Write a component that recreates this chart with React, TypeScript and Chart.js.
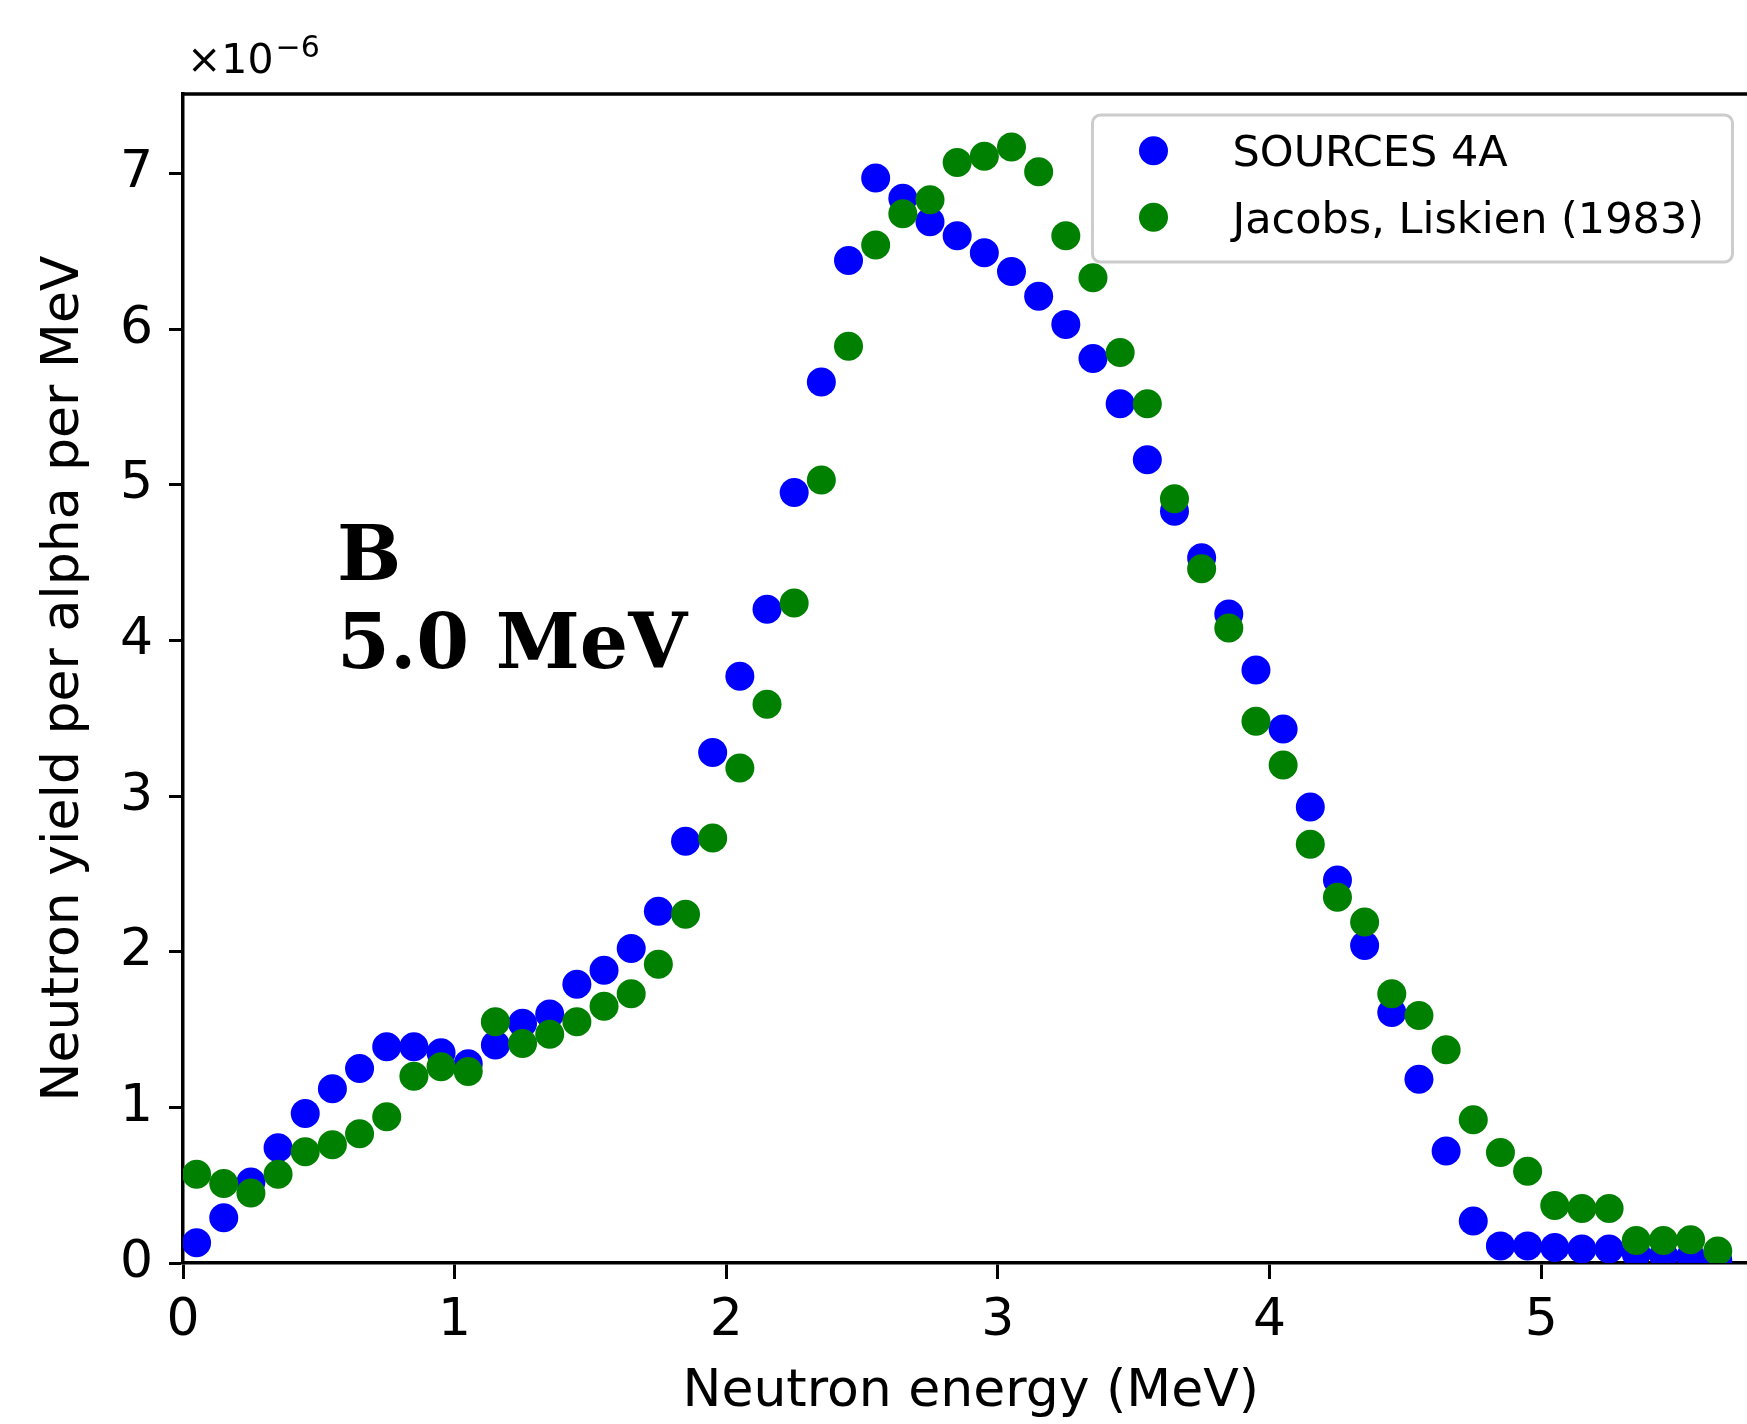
import React, { useEffect, useRef } from "react";
import { Chart, registerables } from "chart.js";

Chart.register(...registerables);

// ---- data (neutron yield in units of 1e-6 per alpha per MeV) ----
const energies = [
  0.05, 0.15, 0.25, 0.35, 0.45, 0.55, 0.65, 0.75, 0.85, 0.95,
  1.05, 1.15, 1.25, 1.35, 1.45, 1.55, 1.65, 1.75, 1.85, 1.95,
  2.05, 2.15, 2.25, 2.35, 2.45, 2.55, 2.65, 2.75, 2.85, 2.95,
  3.05, 3.15, 3.25, 3.35, 3.45, 3.55, 3.65, 3.75, 3.85, 3.95,
  4.05, 4.15, 4.25, 4.35, 4.45, 4.55, 4.65, 4.75, 4.85, 4.95,
  5.05, 5.15, 5.25, 5.35, 5.45, 5.55, 5.65,
];

const sources4a = [
  0.13, 0.29, 0.52, 0.74, 0.96, 1.12, 1.25, 1.39, 1.39, 1.35,
  1.28, 1.40, 1.54, 1.60, 1.79, 1.88, 2.02, 2.26, 2.71, 3.28,
  3.77, 4.20, 4.95, 5.66, 6.44, 6.97, 6.84, 6.69, 6.60, 6.49,
  6.37, 6.21, 6.03, 5.81, 5.52, 5.16, 4.83, 4.53, 4.17, 3.81,
  3.43, 2.93, 2.46, 2.04, 1.61, 1.18, 0.72, 0.27, 0.11, 0.11,
  0.10, 0.09, 0.09, 0.06, 0.05, 0.04, 0.02,
];

const jacobsLiskien = [
  0.57, 0.51, 0.45, 0.57, 0.715, 0.76, 0.83, 0.94, 1.20, 1.26,
  1.23, 1.55, 1.41, 1.47, 1.55, 1.65, 1.73, 1.92, 2.24, 2.73,
  3.18, 3.59, 4.24, 5.03, 5.89, 6.54, 6.74, 6.83, 7.07, 7.11,
  7.17, 7.01, 6.60, 6.33, 5.85, 5.52, 4.91, 4.46, 4.08, 3.48,
  3.20, 2.69, 2.35, 2.19, 1.73, 1.59, 1.37, 0.92, 0.71, 0.59,
  0.37, 0.35, 0.35, 0.145, 0.145, 0.15, 0.077,
];

const seriesLabels = ["SOURCES 4A", "Jacobs, Liskien (1983)"];
const seriesColors = ["#0000ff", "#008000"];
const xTicks = [0, 1, 2, 3, 4, 5];
const yTicks = [0, 1, 2, 3, 4, 5, 6, 7];
const xRange = [0, 5.8];
const yRange = [0, 7.51];
const xTitle = "Neutron energy (MeV)";
const yTitle = "Neutron yield per alpha per MeV";
const offsetBase = "\u00d710";
const offsetExp = "\u22126";
const panelLabel = "B";
const beamLabel = "5.0 MeV";

const SANS = "'DejaVu Sans', sans-serif";
const SERIF = "'DejaVu Serif', serif";

const decorations = {
  id: "decorations",
  afterDraw(chart: any) {
    const { ctx, chartArea: a } = chart;
    ctx.save();
    // top and right spines
    ctx.strokeStyle = "#000";
    ctx.lineWidth = 3.5;
    ctx.beginPath();
    ctx.moveTo(a.left - 1.75, a.top);
    ctx.lineTo(a.right, a.top);
    ctx.lineTo(a.right, a.bottom);
    ctx.stroke();

    // offset text (x10^-6)
    ctx.fillStyle = "#000";
    ctx.textAlign = "left";
    ctx.textBaseline = "alphabetic";
    ctx.font = `41px ${SANS}`;
    ctx.fillText(offsetBase, a.left + 4, a.top - 21);
    const w = ctx.measureText(offsetBase).width;
    ctx.font = `30px ${SANS}`;
    ctx.fillText(offsetExp, a.left + 4 + w + 2, a.top - 37);

    // panel annotation
    ctx.font = `bold 76px ${SERIF}`;
    ctx.fillText(panelLabel, a.left + 154, a.top + 486);
    ctx.fillText(beamLabel, a.left + 154, a.top + 574);

    // legend
    const boxW = 640;
    const boxH = 147;
    const right = a.right - 26;
    const left = right - boxW;
    const top = a.top + 21;
    ctx.beginPath();
    (ctx as any).roundRect(left, top, boxW, boxH, 8);
    ctx.fillStyle = "rgba(255,255,255,0.8)";
    ctx.fill();
    ctx.strokeStyle = "#cccccc";
    ctx.lineWidth = 3;
    ctx.stroke();
    chart.data.datasets.forEach((ds: any, i: number) => {
      const cy = top + 35.7 + i * 66.6;
      ctx.beginPath();
      ctx.arc(left + 61, cy, 14.5, 0, Math.PI * 2);
      ctx.fillStyle = ds.backgroundColor;
      ctx.fill();
      ctx.fillStyle = "#000";
      ctx.font = `43px ${SANS}`;
      ctx.fillText(ds.label, left + 140, cy + 15.5);
    });
    ctx.restore();
  },
};

export default function App() {
  const ref = useRef<HTMLCanvasElement | null>(null);

  useEffect(() => {
    const canvas = ref.current;
    if (!canvas) return;
    const series = [sources4a, jacobsLiskien];
    const chart = new Chart(canvas, {
      type: "scatter",
      data: {
        datasets: series.map((vals, i) => ({
          label: seriesLabels[i],
          data: energies.map((x, j) => ({ x, y: vals[j] })),
          backgroundColor: seriesColors[i],
          borderColor: seriesColors[i],
          borderWidth: 0,
          pointRadius: 14.5,
          pointHoverRadius: 14.5,
          order: i === 0 ? 1 : 0,
          clip: 0,
        })),
      },
      options: {
        responsive: false,
        animation: false,
        devicePixelRatio: 1,
        events: [],
        layout: { padding: { left: 0, top: 94, right: 4, bottom: 0 } },
        plugins: { legend: { display: false }, tooltip: { enabled: false } },
        scales: {
          x: {
            type: "linear",
            position: "bottom",
            min: xRange[0],
            max: xRange[1],
            z: 1,
            afterFit: (s: any) => {
              s.height = 161;
              s.paddingLeft = 0;
              s.paddingRight = 0;
            },
            afterBuildTicks: (s: any) => {
              s.ticks = xTicks.map((v) => ({ value: v }));
            },
            grid: {
              display: true,
              drawOnChartArea: false,
              drawTicks: true,
              tickLength: 16,
              tickWidth: 3,
              tickColor: "#000",
            },
            border: { display: true, color: "#000", width: 3.5 },
            ticks: {
              color: "#000",
              font: { family: SANS, size: 52, lineHeight: 1 },
              padding: 16,
              maxRotation: 0,
              autoSkip: false,
              callback: (v: any) => String(v),
            },
            title: {
              display: true,
              text: xTitle,
              color: "#000",
              font: { family: SANS, size: 52, lineHeight: 1 },
              padding: { top: 0, bottom: 6 },
            },
          },
          y: {
            type: "linear",
            position: "left",
            min: yRange[0],
            max: yRange[1],
            z: 1,
            afterFit: (s: any) => {
              s.width = 183;
              s.paddingTop = 0;
              s.paddingBottom = 0;
            },
            afterBuildTicks: (s: any) => {
              s.ticks = yTicks.map((v) => ({ value: v }));
            },
            grid: {
              display: true,
              drawOnChartArea: false,
              drawTicks: true,
              tickLength: 14,
              tickWidth: 3,
              tickColor: "#000",
            },
            border: { display: true, color: "#000", width: 3.5 },
            ticks: {
              color: "#000",
              font: { family: SANS, size: 52, lineHeight: 1 },
              padding: 16,
              autoSkip: false,
              callback: (v: any) => String(v),
            },
            title: {
              display: true,
              text: yTitle,
              color: "#000",
              font: { family: SANS, size: 52, lineHeight: 1 },
              padding: { top: 38, bottom: 0 },
            },
          },
        },
      },
      plugins: [decorations],
    } as any);
    return () => chart.destroy();
  }, []);

  return (
    <div
      style={{
        position: "absolute",
        left: 0,
        top: 0,
        width: 1747,
        height: 1424,
        overflow: "hidden",
        background: "#fff",
      }}
    >
      <canvas
        ref={ref}
        width={1773}
        height={1424}
        style={{ display: "block", width: 1773, height: 1424 }}
      />
    </div>
  );
}
